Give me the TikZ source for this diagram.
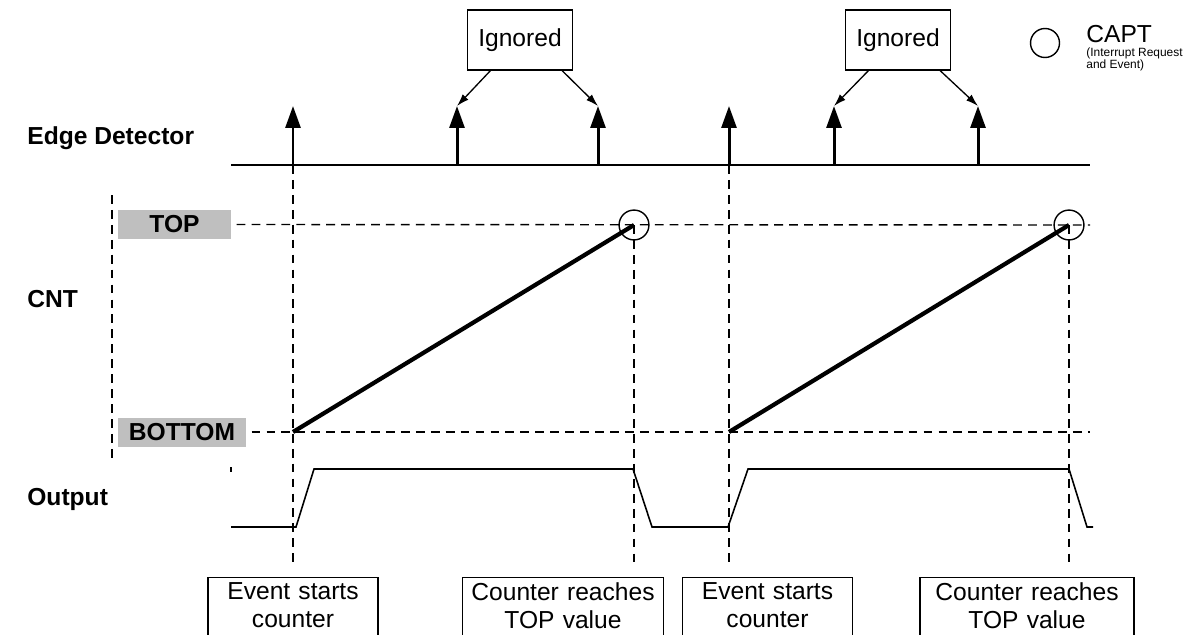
\documentclass[tikz,border=0pt]{standalone}
\usepackage{fontspec}
\setmainfont{Liberation Sans}
\usetikzlibrary{arrows.meta}

\begin{document}
\begin{tikzpicture}[x=.02cm,y=-.02cm,font=\fontsize{14}{16}\selectfont,
 sig/.style={line width=.9pt},
 pulse/.style={line width=1.7pt,-{Triangle[length=12.5pt,width=8.5pt]}},
 guide/.style={line width=.8pt,dash pattern=on 5pt off 3.5pt},
 ramp/.style={line width=2.4pt},
 ptr/.style={line width=.75pt,-{Latex[length=7pt,width=4.5pt]}},
 row/.style={font=\fontsize{14}{16}\selectfont\bfseries,anchor=base west,inner sep=0pt},
 lvl/.style={fill=black!25,font=\fontsize{14}{16}\selectfont\bfseries,minimum height=16.5pt,inner sep=0pt},
 ign/.style={draw,line width=.75pt,minimum width=59.7pt,minimum height=34pt},
 note/.style={draw,line width=.75pt,align=center,anchor=north,inner ysep=3pt,text depth=26pt},
 capt/.style={draw,circle,line width=.8pt,minimum size=16.5pt,inner sep=0pt}]
\useasboundingbox (0,0) rectangle (1196,635);
\node[row] (edge) at (27,144) {Edge Detector};
\node[row] (cnt) at (27,307) {CNT};
\node[row] (out) at (27,505) {Output};
\coordinate (eL) at (231,165);
\coordinate (eR) at (1090,165);
\draw[sig] (eL) -- (eR);
\foreach \i/\x in {1/293,2/457,3/598,4/729,5/834,6/978} {
  \coordinate (p\i) at (\x,165);
  \coordinate (t\i) at (\x,106);
  \draw[pulse] (p\i) -- (t\i);
}
\node[ign] (ig1) at (520,40) {Ignored};
\node[ign] (ig2) at (898,40) {Ignored};
\draw[ptr] (ig1.-134) -- (t2);
\draw[ptr] (ig1.-36) -- (t3);
\draw[ptr] (ig2.-134) -- (t5);
\draw[ptr] (ig2.-36) -- (t6);
\node[capt] (leg) at (1045,43) {};
\node[anchor=base west,inner sep=0pt] (capttxt) at (1086,43) {CAPT};
\node[anchor=north west,inner sep=0pt,align=left,font=\fontsize{6.8}{6.3}\selectfont] (captsub) at (1086,47) {(Interrupt Request\\and Event)};
\draw[guide] (112,195) -- (112,462);
\node[lvl,minimum width=64.3pt] (top) at (174.5,224.5) {TOP};
\node[lvl,minimum width=72.8pt] (bot) at (182,432) {BOTTOM};
\coordinate (topR) at (1090,225);
\coordinate (botR) at (1090,432);
\draw[guide,shorten <=3pt] (top.east) -- (topR);
\draw[guide,shorten <=3pt] (bot.east) -- (botR);
\coordinate (b1) at (293,432);
\coordinate (b2) at (729,432);
\node[capt,minimum size=17pt] (c1) at (634,225) {};
\node[capt,minimum size=17pt] (c2) at (1069,225) {};
\draw[ramp] (b1) -- (c1.center);
\draw[ramp] (b2) -- (c2.center);
\node[note,text width=90pt] (n1) at (293,577) {Event starts\\counter};
\node[note,text width=108pt] (n2) at (563,577) {Counter reaches\\TOP value};
\node[note,text width=90pt] (n3) at (767.5,577) {Event starts\\counter};
\node[note,text width=115pt] (n4) at (1027,577) {Counter reaches\\TOP value};
\draw[guide,shorten >=5pt] (p1) -- (n1.north);
\draw[guide,shorten >=5pt] (p4) -- (p4 |- n3.north);
\draw[guide,shorten >=5pt] (c1.center) -- (c1 |- n2.north);
\draw[guide,shorten >=5pt] (c2.center) -- (c2 |- n4.north);
\draw[sig] (231,467) -- (231,472);
\draw[sig] (231,527) -- (296,527) -- (314,469) -- (633,469) -- (652,527) -- (728,527) -- (748,469) -- (1069,469) -- (1087,527) -- (1093,527);
\end{tikzpicture}
\end{document}
